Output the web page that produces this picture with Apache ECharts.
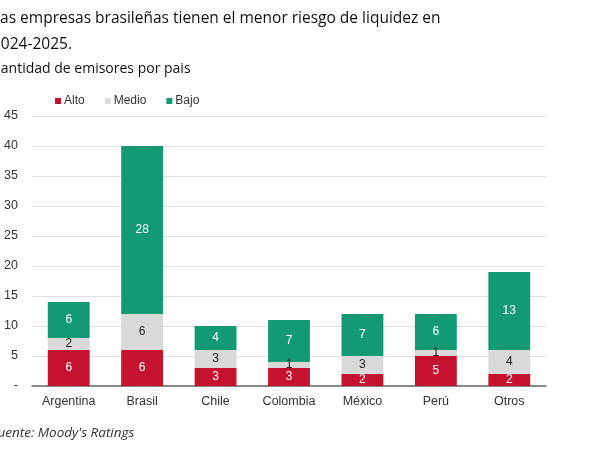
<!DOCTYPE html>
<html>
<head>
<meta charset="utf-8">
<script src="https://cdn.jsdelivr.net/npm/echarts@6/dist/echarts.min.js"></script>
<style>html,body{margin:0;padding:0;background:#fff}#c{width:600px;height:450px}</style>
</head>
<body>
<div id="c"></div>
<script>
var categories = ['Argentina', 'Brasil', 'Chile', 'Colombia', 'México', 'Perú', 'Otros'];
var alto = [6, 6, 3, 3, 2, 5, 2];
var medio = [2, 6, 3, 1, 3, 1, 4];
var bajo = [6, 28, 4, 7, 7, 6, 13];
var seriesNames = ['Alto', 'Medio', 'Bajo'];
var titleText = 'Las empresas brasileñas tienen el menor riesgo de liquidez en\n2024-2025.';
var subtitleText = 'Cantidad de emisores por pais';
var sourceText = "Fuente: Moody's Ratings";

var colors = ['#c4122f', '#d9d9d9', '#139a74'];
var labelColors = ['#ffffff', '#222222', '#ffffff'];
var dataSets = [alto, medio, bajo];

var chart = echarts.init(document.getElementById('c'), null, {renderer: 'canvas'});
var series = dataSets.map(function (d, i) {
  return {
    name: seriesNames[i],
    type: 'bar',
    stack: 'total',
    data: d,
    barWidth: '57%',
    itemStyle: {color: colors[i]},
    label: {
      show: true,
      position: 'inside',
      color: labelColors[i],
      fontFamily: 'Liberation Sans',
      fontSize: 12
    }
  };
});

chart.setOption({
  animation: false,
  textStyle: {fontFamily: 'Liberation Sans'},
  graphic: [
    {type: 'text', left: -8, top: 6, style: {text: titleText, font: '500 15.5px "Open Sans"', lineHeight: 26, fill: '#111'}},
    {type: 'text', left: -8, top: 62, style: {text: subtitleText, font: '14px "Open Sans"', fill: '#111'}},
    {type: 'text', left: -9, top: 426, style: {text: sourceText, font: 'italic 13.5px "Open Sans"', fill: '#333'}}
  ],
  legend: {
    data: seriesNames,
    left: 50,
    top: 90,
    itemWidth: 6,
    itemHeight: 6,
    itemGap: 20,
    icon: 'rect',
    textStyle: {fontSize: 12, color: '#333', fontFamily: 'Liberation Sans', padding: [0, 0, 0, -2]}
  },
  grid: {left: 32, right: 54, top: 116, bottom: 64, containLabel: false},
  xAxis: {
    type: 'category',
    data: categories,
    axisLine: {lineStyle: {color: '#666', width: 1.5}},
    axisTick: {show: false},
    axisLabel: {color: '#333', fontSize: 12.5, margin: 9}
  },
  yAxis: {
    type: 'value',
    min: 0,
    max: 45,
    interval: 5,
    axisLine: {show: false},
    axisTick: {show: false},
    axisLabel: {
      color: '#333', fontSize: 12.5, margin: 14,
      formatter: function (v) { return v === 0 ? '-' : v; }
    },
    splitLine: {lineStyle: {color: '#e0e0e0', width: 1}}
  },
  series: series
});
</script>
</body>
</html>
